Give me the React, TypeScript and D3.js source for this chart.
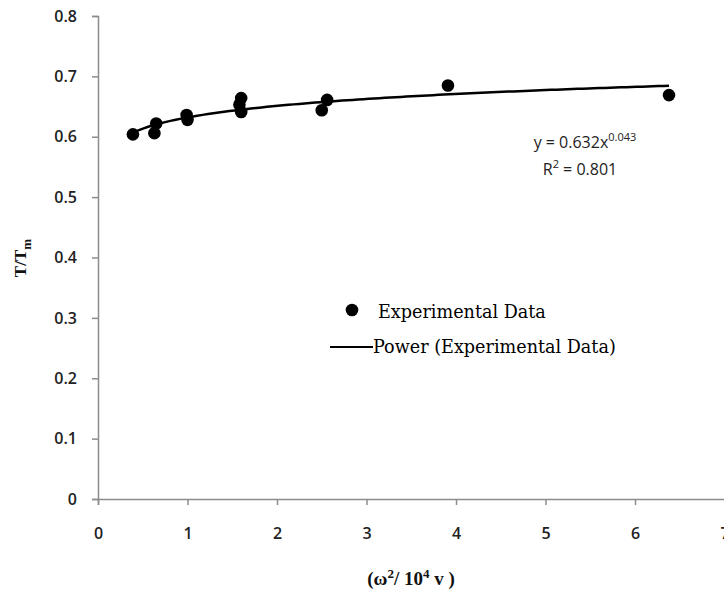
import React, { useEffect, useRef } from "react";
import * as d3 from "d3";

// Measured points: omega^2 / 10^4 v against T/Tm
const xValues = [0.39, 0.63, 0.65, 0.99, 1.0, 1.58, 1.6, 1.6, 2.5, 2.56, 3.91, 6.38];
const yValues = [0.604, 0.606, 0.622, 0.636, 0.628, 0.653, 0.664, 0.641, 0.644, 0.661, 0.685, 0.669];

// Power trend line y = a * x^b
const fitA = 0.632;
const fitB = 0.043;
const fitR2 = 0.801;

const xTicks = [0, 1, 2, 3, 4, 5, 6, 7];
const yTicks = [0, 0.1, 0.2, 0.3, 0.4, 0.5, 0.6, 0.7, 0.8];

const W = 724;
const H = 593;

export default function App() {
  const ref = useRef<SVGSVGElement>(null);

  useEffect(() => {
    const svg = d3.select(ref.current);
    svg.selectAll("*").remove();

    const x = d3.scaleLinear().domain([0, 7]).range([98, 724.5]);
    const y = d3.scaleLinear().domain([0, 0.8]).range([499, 16]);
    const axisColor = "#8c8c8c";
    const textColor = "#222";
    const sans = "'Open Sans', 'Noto Sans', sans-serif";
    const serif = "'Liberation Serif', 'DejaVu Serif', serif";
    const legendSerif = "'DejaVu Serif', serif";

    // y axis
    const yAxis = svg.append("g").attr("transform", `translate(${x(0)},0)`)
      .call(d3.axisLeft(y).tickValues(yTicks).tickSize(6).tickPadding(15).tickFormat(d3.format("~g")));
    yAxis.select(".domain").attr("stroke", axisColor).attr("stroke-width", 1.5);
    yAxis.selectAll(".tick line").attr("stroke", axisColor).attr("stroke-width", 1.5);
    yAxis.selectAll(".tick text").attr("fill", textColor).attr("font-size", 16)
      .attr("font-family", sans).attr("font-weight", 600);

    // x axis
    const xAxis = svg.append("g").attr("transform", `translate(0,${y(0)})`)
      .call(d3.axisBottom(x).tickValues(xTicks).tickSize(6).tickPadding(23).tickFormat(d3.format("d")));
    xAxis.select(".domain").attr("stroke", axisColor).attr("stroke-width", 1.5);
    xAxis.selectAll(".tick line").attr("stroke", axisColor).attr("stroke-width", 1.5);
    xAxis.selectAll(".tick text").attr("fill", textColor).attr("font-size", 16)
      .attr("font-family", sans).attr("font-weight", 600);

    // trend line
    const xMin = d3.min(xValues)!;
    const xMax = d3.max(xValues)!;
    const fitPts = d3.range(0, 101).map((i) => {
      const xv = xMin + ((xMax - xMin) * i) / 100;
      return [xv, fitA * Math.pow(xv, fitB)] as [number, number];
    });
    svg.append("path")
      .datum(fitPts)
      .attr("d", d3.line<[number, number]>().x((d) => x(d[0])).y((d) => y(d[1])))
      .attr("fill", "none").attr("stroke", "#000").attr("stroke-width", 2.5);

    // data points
    svg.append("g").selectAll("circle")
      .data(xValues.map((v, i) => [v, yValues[i]]))
      .join("circle")
      .attr("cx", (d) => x(d[0])).attr("cy", (d) => y(d[1]))
      .attr("r", 6.3).attr("fill", "#000");

    // equation
    const eq = svg.append("text").attr("x", 585).attr("y", 148).attr("text-anchor", "middle")
      .attr("font-family", sans).attr("font-size", 16).attr("fill", textColor);
    eq.append("tspan").text(`y = ${fitA}x`);
    eq.append("tspan").attr("dy", -7).attr("font-size", 11).text(`${fitB}`);
    const r2 = svg.append("text").attr("x", 580).attr("y", 175).attr("text-anchor", "middle")
      .attr("font-family", sans).attr("font-size", 16).attr("fill", textColor);
    r2.append("tspan").text("R");
    r2.append("tspan").attr("dy", -7).attr("font-size", 11).text("2");
    r2.append("tspan").attr("dy", 7).text(` = ${fitR2}`);

    // legend
    svg.append("circle").attr("cx", 352).attr("cy", 310).attr("r", 6.3).attr("fill", "#000");
    svg.append("text").attr("x", 378).attr("y", 318).attr("font-family", legendSerif)
      .attr("font-size", 17.6).attr("fill", "#000").text("Experimental Data");
    svg.append("line").attr("x1", 330).attr("x2", 373).attr("y1", 347).attr("y2", 347)
      .attr("stroke", "#000").attr("stroke-width", 2);
    svg.append("text").attr("x", 373).attr("y", 353).attr("font-family", legendSerif)
      .attr("font-size", 17.6).attr("fill", "#000").text("Power (Experimental Data)");

    // axis titles
    const xt = svg.append("text").attr("x", 411).attr("y", 585).attr("text-anchor", "middle")
      .attr("font-family", serif).attr("font-weight", "bold").attr("font-size", 19).attr("fill", "#111");
    xt.append("tspan").text("(ω");
    xt.append("tspan").attr("dy", -7).attr("font-size", 13).text("2");
    xt.append("tspan").attr("dy", 7).text("/ 10");
    xt.append("tspan").attr("dy", -7).attr("font-size", 13).text("4");
    xt.append("tspan").attr("dy", 7).text(" v )");

    const yt = svg.append("text").attr("transform", "translate(26,258) rotate(-90)").attr("text-anchor", "middle")
      .attr("font-family", serif).attr("font-weight", "bold").attr("font-size", 17).attr("fill", "#111");
    yt.append("tspan").text("T/T");
    yt.append("tspan").attr("dy", 5).attr("font-size", 13).text("m");
  }, []);

  return (
    <svg ref={ref} width={W} height={H}
      style={{ position: "absolute", left: 0, top: 0, background: "#fff" }} />
  );
}
